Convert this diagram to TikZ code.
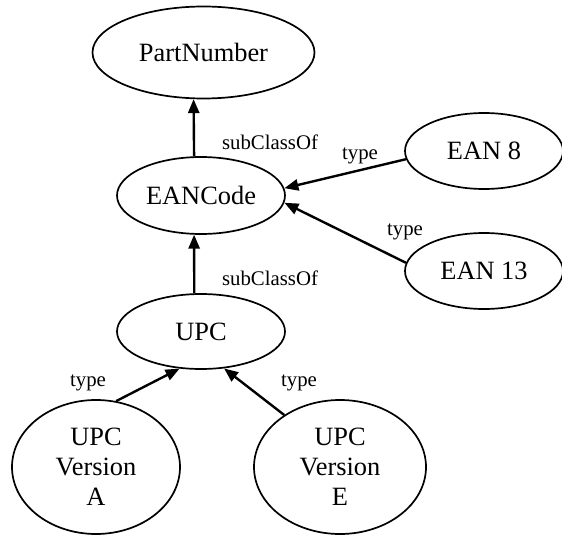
\documentclass[tikz,border=0pt]{standalone}
\usepackage{fontspec}
\setmainfont{Liberation Serif}
\usetikzlibrary{shapes.geometric,arrows.meta}
\begin{document}
\begin{tikzpicture}[x=0.5pt,y=-0.5pt,
  cls/.style={ellipse,draw,line width=0.85pt,inner sep=0pt,align=center,
    font=\fontsize{13.2}{15}\selectfont},
  lbl/.style={font=\fontsize{10.4}{12}\selectfont,inner sep=0pt},
  edge/.style={line width=1.2pt,-{Triangle[length=7pt,width=5.6pt]}}]
\useasboundingbox (0,0) rectangle (562,535);
\node[cls,minimum width=111pt,minimum height=46pt] (pn) at (203.5,52.5) {PartNumber};
\node[cls,minimum width=84pt,minimum height=38.5pt] (ean) at (201,195.5) {EANCode};
\node[cls,minimum width=84pt,minimum height=37.5pt] (upc) at (201,331.5) {UPC};
\node[cls,minimum width=79pt,minimum height=38pt] (ean8) at (484,151) {EAN 8};
\node[cls,minimum width=79pt,minimum height=38pt] (ean13) at (484,271) {EAN 13};
\node[cls,minimum width=84pt,minimum height=67pt] (upca) at (96,467) {UPC\\Version\\A};
\node[cls,minimum width=86pt,minimum height=67pt] (upce) at (340,467) {UPC\\Version\\E};
\draw[edge] (ean.100) -- (pn.258);
\draw[edge] (upc.100) -- (ean.260);
\draw[edge] (ean8.186) -- (ean.5);
\draw[edge] (ean13.174) -- (ean.355);
\draw[edge] (upca.73) -- (upc.240);
\draw[edge] (upce.137) -- (upc.302);
\node[lbl] (l1) at (270,142) {subClassOf};
\node[lbl] (l2) at (270,278) {subClassOf};
\node[lbl] (l3) at (360,156) {type};
\node[lbl] (l4) at (405,232) {type};
\node[lbl] (l5) at (88,383) {type};
\node[lbl] (l6) at (299,383) {type};
\end{tikzpicture}
\end{document}
